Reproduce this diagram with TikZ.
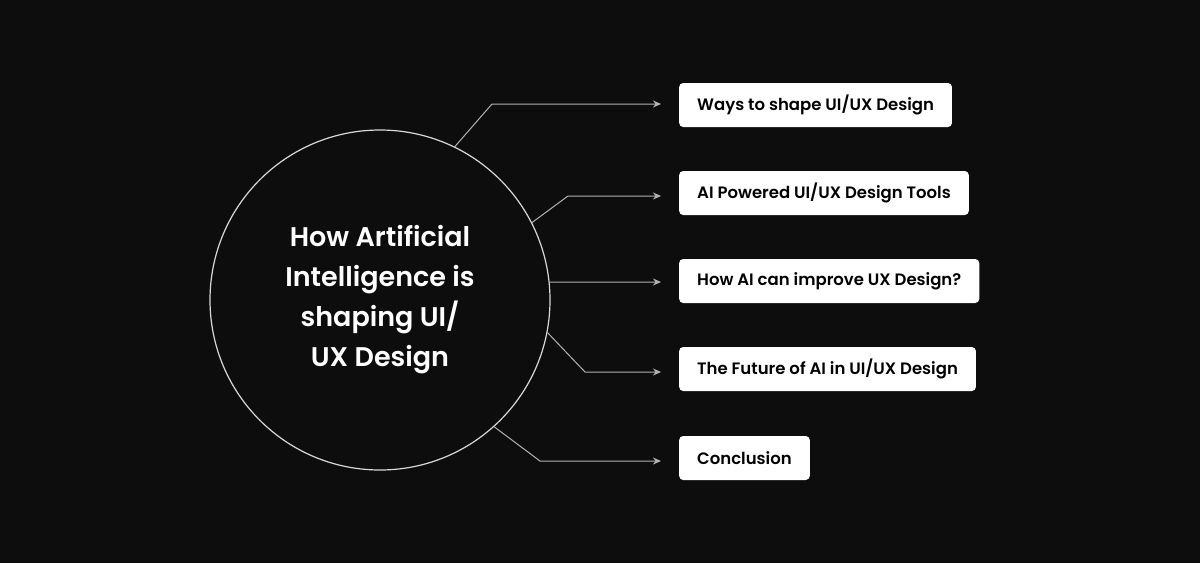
\documentclass[tikz,border=0pt]{standalone}
\usetikzlibrary{arrows.meta}
\usepackage{fontspec}
\setmainfont{Poppins}[UprightFont=* SemiBold]
\begin{document}
\begin{tikzpicture}[x=1pt,y=-1pt,
  lbl/.style={fill=white,rounded corners=4pt,anchor=west,minimum height=44pt,inner xsep=18pt,font=\fontsize{16.5}{20}\selectfont,text=black},
  conn/.style={draw=white!70!black,line width=1pt,-{Stealth[length=8pt,width=7pt]}}]
\useasboundingbox[fill=black!95] (0,0) rectangle (1200,563);
\node[circle,draw=white!85!black,line width=1.2pt,minimum size=340pt,align=center,text=white,font=\fontsize{27}{40}\selectfont] (c) at (380,300) {How Artificial\\Intelligence is\\shaping UI/\\UX Design};
\node[lbl] (b1) at (679,105) {Ways to shape UI/UX Design};
\node[lbl] (b2) at (679,193) {AI Powered UI/UX Design Tools};
\node[lbl] (b3) at (679,281) {How AI can improve UX Design?};
\node[lbl] (b4) at (679,369) {The Future of AI in UI/UX Design};
\node[lbl] (b5) at (679,458) {Conclusion};
\coordinate (k1) at (492,104);
\coordinate (k2) at (568,196);
\coordinate (k4) at (585,372);
\coordinate (k5) at (540,461);
\draw[conn] (c.{atan2(152,72)}) -- (k1) -- ([xshift=-18pt]b1.west |- k1);
\draw[conn] (c.{atan2(78,148)}) -- (k2) -- ([xshift=-18pt]b2.west |- k2);
\draw[conn] (c.{atan2(18,169)}) -- ([xshift=-18pt]b3.west |- 0,282);
\draw[conn] (c.{atan2(-33,163)}) -- (k4) -- ([xshift=-18pt]b4.west |- k4);
\draw[conn] (c.{atan2(-125,112)}) -- (k5) -- ([xshift=-18pt]b5.west |- k5);
\end{tikzpicture}
\end{document}
